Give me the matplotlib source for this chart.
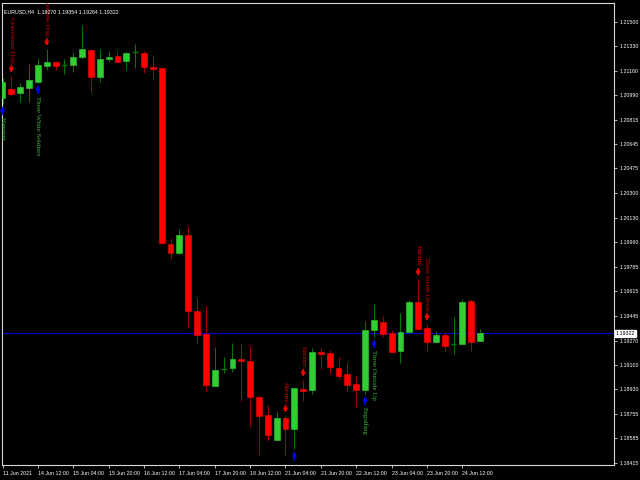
import matplotlib
matplotlib.use('Agg')
import matplotlib.pyplot as plt

# EURUSD H4 candles, 11 Jun 20:00 .. 24 Jun 16:00
opens = [1.20966, 1.21031, 1.21000, 1.21036, 1.21082, 1.21192, 1.21220, 1.21199, 1.21199, 1.21255,
         1.21304, 1.21117, 1.21241, 1.21262, 1.21229, 1.21287, 1.21285, 1.21187, 1.21176, 1.19944,
         1.19881, 1.20009, 1.19479, 1.19314, 1.18954, 1.19073, 1.19076, 1.19138, 1.19127, 1.18875,
         1.18747, 1.18576, 1.18726, 1.18651, 1.18929, 1.18924, 1.19192, 1.19183, 1.19080, 1.19034,
         1.18966, 1.18924, 1.19344, 1.19398, 1.19323, 1.19197, 1.19328, 1.19538, 1.19358, 1.19262,
         1.19309, 1.19246, 1.19246, 1.19547, 1.19270]
highs = [1.21108, 1.21122, 1.21073, 1.21206, 1.21248, 1.21309, 1.21225, 1.21241, 1.21290, 1.21479,
         1.21309, 1.21309, 1.21299, 1.21297, 1.21292, 1.21346, 1.21297, 1.21269, 1.21176, 1.19986,
         1.20051, 1.20063, 1.19570, 1.19512, 1.19227, 1.19153, 1.19255, 1.19246, 1.19227, 1.18879,
         1.18819, 1.18770, 1.18742, 1.18938, 1.18994, 1.19216, 1.19215, 1.19204, 1.19153, 1.19115,
         1.19027, 1.19409, 1.19526, 1.19442, 1.19344, 1.19461, 1.19554, 1.19699, 1.19386, 1.19337,
         1.19332, 1.19437, 1.19561, 1.19561, 1.19354]
lows = [1.20926, 1.20982, 1.20942, 1.20940, 1.21073, 1.21164, 1.21164, 1.21134, 1.21147, 1.21239,
        1.21012, 1.21082, 1.21218, 1.21218, 1.21161, 1.21180, 1.21141, 1.21099, 1.19949, 1.19841,
        1.19876, 1.19356, 1.19255, 1.18912, 1.18952, 1.19045, 1.19052, 1.18849, 1.18667, 1.18469,
        1.18569, 1.18574, 1.18469, 1.18509, 1.18849, 1.18894, 1.19072, 1.19045, 1.19001, 1.18912,
        1.18807, 1.18896, 1.19293, 1.19293, 1.19190, 1.19111, 1.19328, 1.19344, 1.19192, 1.19255,
        1.19192, 1.19176, 1.19246, 1.19197, 1.19264]
closes = [1.21080, 1.20998, 1.21047, 1.21094, 1.21199, 1.21222, 1.21194, 1.21199, 1.21257, 1.21310,
          1.21117, 1.21239, 1.21254, 1.21222, 1.21285, 1.21287, 1.21183, 1.21172, 1.19955, 1.19881,
          1.20009, 1.19477, 1.19309, 1.18957, 1.19064, 1.19073, 1.19139, 1.19127, 1.18873, 1.18742,
          1.18611, 1.18726, 1.18651, 1.18936, 1.18918, 1.19192, 1.19175, 1.19083, 1.19024, 1.18959,
          1.18924, 1.19344, 1.19414, 1.19316, 1.19192, 1.19330, 1.19538, 1.19351, 1.19262, 1.19307,
          1.19234, 1.19246, 1.19542, 1.19262, 1.19322]

# pattern marks; bar 33's label falls below the visible chart, so only its arrow shows
pattern_bars = [0, 1, 4, 5, 32, 33, 34, 41, 42, 47, 48]
pattern_names = ["Hammer", "Gravestone Doji", "Three White Soldiers", "Gravestone Doji", "Harami",
                 "", "Harami", "Engulfing", "Three Outside Up", "Harami", "Three Inside Down"]
pattern_bull = [True, False, True, False, False, True, False, True, True, False, False]

price_ticks = [1.21500, 1.21330, 1.21160, 1.20990, 1.20815, 1.20645, 1.20475, 1.20300, 1.20130, 1.19960,
               1.19785, 1.19615, 1.19445, 1.19270, 1.19100, 1.18930, 1.18755, 1.18585, 1.18415]
date_bars = [0, 4, 8, 12, 16, 20, 24, 28, 32, 36, 40, 44, 48, 52]
date_labels = ["11 Jun 2021", "14 Jun 12:00", "15 Jun 04:00", "15 Jun 20:00", "16 Jun 12:00",
               "17 Jun 04:00", "17 Jun 20:00", "18 Jun 12:00", "21 Jun 04:00", "21 Jun 20:00",
               "22 Jun 12:00", "23 Jun 04:00", "23 Jun 20:00", "24 Jun 12:00"]
last_price = 1.19322
title = "EURUSD,H4  1.19270 1.19354 1.19264 1.19322"

BULL_BODY = '#32CD32'
BULL_WICK = '#007800'
BEAR_BODY = '#FF0000'
BEAR_WICK = '#A00000'
FRAME = '#D8D8CC'
SMALL = 'Liberation Sans'
SMALL_SIZE = 3.8

fig = plt.figure(figsize=(6.4, 4.8), dpi=100, facecolor='black')
ax = fig.add_axes([2 / 640, 15 / 480, 612 / 640, 462 / 480], facecolor='black')

idx = list(range(len(opens)))
wick_colors = [BEAR_WICK if c < o else BULL_WICK for o, c in zip(opens, closes)]
ax.vlines(idx, lows, highs, colors=wick_colors, linewidth=0.75, zorder=2)

body_w = 0.66
for i, o, c in zip(idx, opens, closes):
    if c == o:
        ax.hlines(o, i - body_w / 2, i + body_w / 2, color=BULL_WICK, linewidth=1.0, zorder=3)
    else:
        col = BULL_BODY if c > o else BEAR_BODY
        ax.bar(i, abs(c - o), bottom=min(o, c), width=body_w, color=col,
               edgecolor=col, linewidth=0.4, zorder=3)

ax.axhline(last_price, color='#0000D0', linewidth=0.8, zorder=1)

# pattern arrows and labels
for b, name, bull in zip(pattern_bars, pattern_names, pattern_bull):
    if bull:
        ax.annotate('', xy=(b, lows[b]), xytext=(0, -7.5), textcoords='offset points',
                    arrowprops=dict(arrowstyle='-|>', color='#0000FF', lw=1.3,
                                    mutation_scale=5, shrinkA=0, shrinkB=1.5),
                    annotation_clip=False)
        if name:
            ax.annotate(name, xy=(b, lows[b]), xytext=(0, -9.5), textcoords='offset points',
                        rotation=-90, ha='center', va='top', fontsize=5, color='#3CB83C',
                        family='Liberation Serif', clip_on=True)
    else:
        ax.annotate('', xy=(b, highs[b]), xytext=(0, 7.5), textcoords='offset points',
                    arrowprops=dict(arrowstyle='-|>', color='#FF0000', lw=1.3,
                                    mutation_scale=5, shrinkA=0, shrinkB=2.2),
                    annotation_clip=False)
        if name:
            ax.annotate(name, xy=(b, highs[b]), xytext=(0, 9.5), textcoords='offset points',
                        rotation=-90, ha='center', va='bottom', fontsize=5, color='#D80000',
                        family='Liberation Serif', clip_on=True)

ax.set_xlim(-0.06, 69.15)
ax.set_ylim(1.18399, 1.21633)

ax.yaxis.tick_right()
ax.set_yticks(price_ticks)
ax.set_yticklabels(['%.5f' % p for p in price_ticks])
ax.set_xticks(date_bars)
ax.set_xticklabels(date_labels, ha='left')
ax.tick_params(axis='y', colors=FRAME, labelcolor='white', length=2.5, width=0.6,
               pad=1.2, labelsize=SMALL_SIZE)
ax.tick_params(axis='x', colors=FRAME, labelcolor='white', length=2.5, width=0.6,
               pad=1.5, labelsize=SMALL_SIZE)
for lab in ax.get_xticklabels() + ax.get_yticklabels():
    lab.set_family(SMALL)

for sp in ax.spines.values():
    sp.set_color(FRAME)
    sp.set_linewidth(0.8)

ax.text(0.004, 0.986, title, transform=ax.transAxes, ha='left', va='top',
        color='white', fontsize=SMALL_SIZE, family=SMALL, zorder=5)

ax.annotate('%.5f' % last_price, xy=(1.0, last_price), xycoords=('axes fraction', 'data'),
            xytext=(1.2, 0), textcoords='offset points', ha='left', va='center',
            fontsize=SMALL_SIZE, color='black', family=SMALL, annotation_clip=False,
            bbox=dict(boxstyle='square,pad=0.2', facecolor='white', edgecolor='white'))

fig.savefig('out.png', dpi=100, facecolor='black')
